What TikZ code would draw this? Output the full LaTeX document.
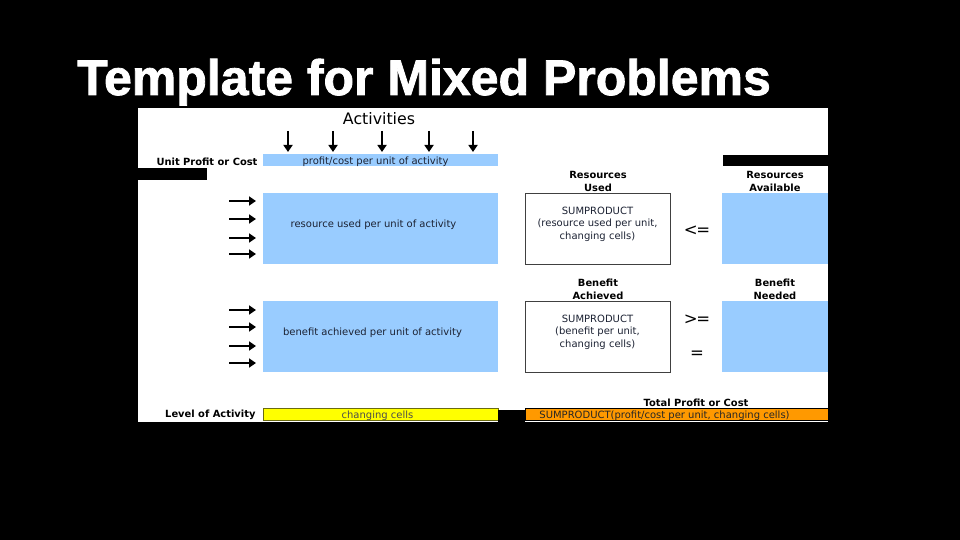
\documentclass[tikz,border=0pt]{standalone}
\usepackage{fontspec}
\setmainfont{DejaVu Sans}
\newfontfamily\titlefont{Liberation Sans}[BoldFeatures={FakeBold=1.6}]
\usetikzlibrary{arrows.meta}

\definecolor{cellblue}{HTML}{99CCFF}
\definecolor{cellyellow}{HTML}{FFFF00}
\definecolor{cellorange}{HTML}{FF9900}
\definecolor{cellolive}{HTML}{6B6B10}
\definecolor{celltext}{HTML}{1C2233}

\tikzset{
    bluecell/.style={fill=cellblue, inner sep=0pt},
    formulabox/.style={draw=black!75, line width=0.8pt, fill=white, inner sep=0pt},
    cellfont/.style={font=\fontsize{10}{12.5}\selectfont, align=center, text=celltext},
    headfont/.style={font=\fontsize{9.9}{13}\selectfont\bfseries, align=center},
    relfont/.style={font=\fontsize{16.5}{16.5}\selectfont},
    marker/.style={line width=2pt, -{Triangle[length=7pt,width=9pt]}},
}

\begin{document}
\begin{tikzpicture}[x=1pt, y=-1pt]
    % slide background and sheet
    \fill[black] (0,0) rectangle (960,540);
    \useasboundingbox (0,0) rectangle (960,540);
    \fill[white] (138,108) rectangle (828,422);
    \node[anchor=base west, text=white, inner sep=0pt,
        font=\titlefont\fontsize{50}{50}\selectfont\bfseries] (title) at (77,95) {Template for Mixed Problems};

    % header row
    \node[font=\fontsize{15.8}{15.8}\selectfont] (act) at (379,119) {Activities};
    \foreach \x in {288,333,382,429,473}
        \draw[marker] (\x,131) -- (\x,152);
    \node[bluecell, minimum width=235pt, minimum height=12pt] (unitcell) at (380.5,160) {};
    \node[cellfont] at ([shift={(-5,1.5)}]unitcell.center) {profit/cost per unit of activity};
    \node[headfont, anchor=east] (unitlbl) at (261,162) {Unit Profit or Cost};
    \fill[black] (138,168) rectangle (207,180);
    \fill[black] (723,155) rectangle (828,166);

    % resource constraints
    \node[bluecell, minimum width=235pt, minimum height=71pt] (res) at (380.5,228.5) {};
    \node[cellfont] at ([shift={(-7,-4)}]res.center) {resource used per unit of activity};
    \foreach \y in {201,219,238,254}
        \draw[marker] (229,\y) -- (256,\y);
    \node[formulabox, minimum width=145pt, minimum height=71pt] (resused) at (597.5,228.5) {};
    \node[cellfont] at ([shift={(0,-4.5)}]resused.center) {SUMPRODUCT\\(resource used per unit,\\changing cells)};
    \node[headfont] (resusedlbl) at (598,181) {Resources\\Used};
    \node[relfont] (le) at (697,231) {<\kern-1.5pt=};
    \node[bluecell, minimum width=106pt, minimum height=71pt] (resavail) at (775,228.5) {};
    \node[headfont] (resavaillbl) at (775,181) {Resources\\Available};

    % benefit constraints
    \node[bluecell, minimum width=235pt, minimum height=71pt] (ben) at (380.5,336.5) {};
    \node[cellfont] at ([shift={(-8,-4)}]ben.center) {benefit achieved per unit of activity};
    \foreach \y in {310,327,346,363}
        \draw[marker] (229,\y) -- (256,\y);
    \node[formulabox, minimum width=145pt, minimum height=71pt] (benach) at (597.5,336.5) {};
    \node[cellfont] at ([shift={(0,-4.5)}]benach.center) {SUMPRODUCT\\(benefit per unit,\\changing cells)};
    \node[headfont] (benachlbl) at (598,289.5) {Benefit\\Achieved};
    \node[relfont] (ge) at (697,320) {>\kern-1.5pt=};
    \node[relfont] (eq) at (697,355) {=};
    \node[bluecell, minimum width=106pt, minimum height=71pt] (benneed) at (775,336.5) {};
    \node[headfont] (benneedlbl) at (775,289.5) {Benefit\\Needed};

    % bottom row
    \node[headfont, anchor=east] (levellbl) at (259,415) {Level of Activity};
    \node[draw=cellolive, line width=0.8pt, fill=cellyellow, minimum width=235pt, minimum height=12pt,
        inner sep=0pt] (changing) at (380.5,414) {};
    \node[cellfont, text=black!70] at ([shift={(-3,1.5)}]changing.center) {changing cells};
    \fill[black] (498,410) rectangle (525,422);
    \node[headfont] (totallbl) at (696,403) {Total Profit or Cost};
    \node[draw=black, line width=0.6pt, fill=cellorange, minimum width=303pt, minimum height=12pt,
        inner sep=0pt] (total) at (676.5,414) {};
    \node[cellfont, text=black!85] at ([shift={(-12,1.5)}]total.center) {SUMPRODUCT(profit/cost per unit, changing cells)};
\end{tikzpicture}
\end{document}
